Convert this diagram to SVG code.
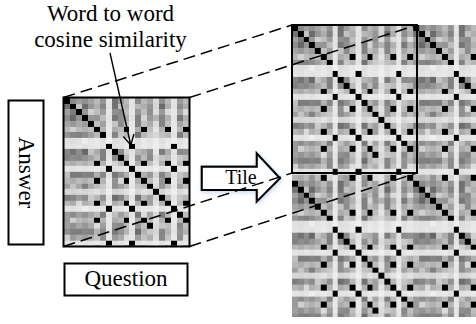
<svg xmlns="http://www.w3.org/2000/svg" width="476" height="324" viewBox="0 0 476 324">
<style>
.t{font-family:"Liberation Serif","Times New Roman",serif;fill:#000}
.box{fill:#fff;stroke:#000;stroke-width:2}
.frame{fill:none;stroke:#000;stroke-width:2}
.dash{fill:none;stroke:#000;stroke-width:1.5;stroke-dasharray:12 6}
.lead{fill:none;stroke:#000;stroke-width:1.4}
#mat rect,#mat path,#rowmask rect{shape-rendering:crispEdges}
</style>
<defs>
<mask id="rowmask" maskUnits="userSpaceOnUse" x="0" y="0" width="21" height="27">
<g fill="#fff">
<rect y="0" width="21" height="1" fill-opacity=".60"/>
<rect y="1" width="21" height="1" fill-opacity=".70"/>
<rect y="2" width="21" height="1" fill-opacity=".55"/>
<rect y="3" width="21" height="1" fill-opacity=".68"/>
<rect y="4" width="21" height="1" fill-opacity=".52"/>
<rect y="5" width="21" height="1" fill-opacity=".40"/>
<rect y="6" width="21" height="1" fill-opacity=".62"/>
<rect y="7" width="21" height="1" fill-opacity=".12"/>
<rect y="8" width="21" height="1" fill-opacity=".10"/>
<rect y="9" width="21" height="1" fill-opacity=".72"/>
<rect y="10" width="21" height="1" fill-opacity=".58"/>
<rect y="11" width="21" height="1" fill-opacity=".40"/>
<rect y="12" width="21" height="1" fill-opacity=".10"/>
<rect y="13" width="21" height="1" fill-opacity=".68"/>
<rect y="14" width="21" height="1" fill-opacity=".40"/>
<rect y="15" width="21" height="1" fill-opacity=".55"/>
<rect y="16" width="21" height="1" fill-opacity=".18"/>
<rect y="17" width="21" height="1" fill-opacity=".62"/>
<rect y="18" width="21" height="1" fill-opacity=".40"/>
<rect y="19" width="21" height="1" fill-opacity=".10"/>
<rect y="20" width="21" height="1" fill-opacity=".58"/>
<rect y="21" width="21" height="1" fill-opacity=".40"/>
<rect y="22" width="21" height="1" fill-opacity=".55"/>
<rect y="23" width="21" height="1" fill-opacity=".66"/>
<rect y="24" width="21" height="1" fill-opacity=".50"/>
<rect y="25" width="21" height="1" fill-opacity=".10"/>
<rect y="26" width="21" height="1" fill-opacity=".40"/>
</g>
</mask>
<g id="mat">
<rect width="21" height="27" fill="#f3f3f3"/>
<g mask="url(#rowmask)" fill="#000">
<rect x="0" width="1" height="27" fill-opacity=".62"/>
<rect x="1" width="1" height="27" fill-opacity=".72"/>
<rect x="2" width="1" height="27" fill-opacity=".58"/>
<rect x="3" width="1" height="27" fill-opacity=".68"/>
<rect x="4" width="1" height="27" fill-opacity=".55"/>
<rect x="5" width="1" height="27" fill-opacity=".40"/>
<rect x="6" width="1" height="27" fill-opacity=".65"/>
<rect x="7" width="1" height="27" fill-opacity=".10"/>
<rect x="8" width="1" height="27" fill-opacity=".75"/>
<rect x="9" width="1" height="27" fill-opacity=".60"/>
<rect x="10" width="1" height="27" fill-opacity=".40"/>
<rect x="11" width="1" height="27" fill-opacity=".10"/>
<rect x="12" width="1" height="27" fill-opacity=".70"/>
<rect x="13" width="1" height="27" fill-opacity=".40"/>
<rect x="14" width="1" height="27" fill-opacity=".55"/>
<rect x="15" width="1" height="27" fill-opacity=".18"/>
<rect x="16" width="1" height="27" fill-opacity=".68"/>
<rect x="17" width="1" height="27" fill-opacity=".40"/>
<rect x="18" width="1" height="27" fill-opacity=".10"/>
<rect x="19" width="1" height="27" fill-opacity=".60"/>
<rect x="20" width="1" height="27" fill-opacity=".40"/>
</g>
<path fill="#000" fill-opacity=".16" d="M1 3h1v1h-1z M3 9h1v1h-1z M9 2h1v1h-1z M12 4h1v1h-1z M16 1h1v1h-1z M2 13h1v1h-1z M8 17h1v1h-1z M14 10h1v1h-1z M19 6h1v1h-1z M6 20h1v1h-1z M4 23h1v1h-1z M12 23h1v1h-1z M16 14h1v1h-1z M0 17h1v1h-1z M9 22h1v1h-1z M15 3h1v1h-1z M3 26h1v1h-1z M19 24h1v1h-1z M6 10h1v1h-1z M2 6h1v1h-1z M8 0h1v1h-1z M12 20h1v1h-1z M16 24h1v1h-1z M0 10h1v1h-1z M0 1h1v1h-1z M1 2h1v1h-1z M3 1h1v1h-1z M5 3h1v1h-1z M9 4h1v1h-1z M12 6h1v1h-1z M14 2h1v1h-1z M16 4h1v1h-1z M19 3h1v1h-1z M20 9h1v1h-1z M2 10h1v1h-1z M4 13h1v1h-1z M8 14h1v1h-1z M9 17h1v1h-1z M12 17h1v1h-1z M14 18h1v1h-1z M16 20h1v1h-1z M19 22h1v1h-1z M2 23h1v1h-1z M6 24h1v1h-1z M9 26h1v1h-1z M12 26h1v1h-1z M0 21h1v1h-1z M3 15h1v1h-1z"/>
<path fill="#fff" fill-opacity=".45" d="M2 1h1v1h-1z M4 9h1v1h-1z M8 4h1v1h-1z M12 1h1v1h-1z M14 6h1v1h-1z M16 10h1v1h-1z M1 15h1v1h-1z M9 14h1v1h-1z M13 20h1v1h-1z M19 17h1v1h-1z M5 22h1v1h-1z M0 24h1v1h-1z M10 24h1v1h-1z M16 22h1v1h-1z M20 2h1v1h-1z M6 15h1v1h-1z M14 26h1v1h-1z M3 19h1v1h-1z M8 11h1v1h-1z M4 2h1v1h-1z M19 13h1v1h-1z M1 21h1v1h-1z M12 9h1v1h-1z M9 6h1v1h-1z M1 5h1v1h-1z M3 7h1v1h-1z M9 1h1v1h-1z M6 3h1v1h-1z M13 3h1v1h-1z M16 6h1v1h-1z M19 10h1v1h-1z M0 13h1v1h-1z M4 17h1v1h-1z M8 20h1v1h-1z M12 15h1v1h-1z M14 23h1v1h-1z M20 24h1v1h-1z M2 18h1v1h-1z M10 9h1v1h-1z M6 26h1v1h-1z M17 2h1v1h-1z M15 9h1v1h-1z"/>
<path fill="#000" d="M0 0h1v1h-1z M1 1h1v1h-1z M2 2h1v1h-1z M3 3h1v1h-1z M4 4h1v1h-1z M5 5h1v1h-1z M6 6h1v1h-1z M7 8h1v1h-1z M8 9h1v1h-1z M9 10h1v1h-1z M10 11h1v1h-1z M11 12h1v1h-1z M12 13h1v1h-1z M13 14h1v1h-1z M14 15h1v1h-1z M15 16h1v1h-1z M16 17h1v1h-1z M17 18h1v1h-1z M18 19h1v1h-1z M19 20h1v1h-1z M20 21h1v1h-1z
M5 11h1v1h-1z M5 14h1v1h-1z M5 18h1v1h-1z M5 21h1v1h-1z M5 26h1v1h-1z
M10 5h1v1h-1z M10 14h1v1h-1z M10 18h1v1h-1z M10 21h1v1h-1z M10 26h1v1h-1z
M13 5h1v1h-1z M13 11h1v1h-1z M13 18h1v1h-1z M13 21h1v1h-1z M13 26h1v1h-1z
M17 5h1v1h-1z M17 11h1v1h-1z M17 14h1v1h-1z M17 21h1v1h-1z M17 26h1v1h-1z
M20 5h1v1h-1z M20 11h1v1h-1z M20 14h1v1h-1z M20 18h1v1h-1z M20 26h1v1h-1z
M7 12h1v1h-1z M7 19h1v1h-1z M7 25h1v1h-1z M11 8h1v1h-1z M11 19h1v1h-1z M11 25h1v1h-1z M18 8h1v1h-1z M18 12h1v1h-1z M18 25h1v1h-1z M14 22h1v1h-1z"/>
</g>
<pattern id="pL" patternUnits="userSpaceOnUse" width="21" height="27" patternTransform="translate(292 25) scale(5.77)"><use href="#mat"/></pattern>
<pattern id="pS" patternUnits="userSpaceOnUse" width="21" height="27" patternTransform="translate(64 98) scale(5.952 5.692)"><use href="#mat"/></pattern>
<marker id="ah" viewBox="0 0 12 12" refX="11" refY="6" markerWidth="12" markerHeight="12" markerUnits="userSpaceOnUse" orient="auto"><path d="M1,0.5 L11,6 L1,11.5" fill="none" stroke="#000" stroke-width="1.4"/></marker>
<filter id="glow" x="-20%" y="-30%" width="140%" height="160%"><feDropShadow dx="1" dy="1.5" stdDeviation="2" flood-color="#8fb3dc" flood-opacity=".55"/></filter>
</defs>

<g id="tiled-matrix">
<rect x="292" y="25" width="184" height="292" fill="url(#pL)"/>
<rect class="frame" x="292" y="25" width="125" height="148"/>
</g>

<g id="small-matrix">
<rect x="64" y="98" width="125" height="148" fill="url(#pS)"/>
<rect class="frame" x="63.5" y="97.5" width="126" height="149"/>
</g>

<g id="answer">
<rect class="box" x="8.5" y="100.5" width="35" height="144"/>
<text class="t" font-size="23" text-anchor="middle" transform="translate(18.5 172.5) rotate(90)">Answer</text>
</g>

<g id="question">
<rect class="box" x="64.5" y="263.5" width="123" height="32"/>
<text class="t" font-size="23" text-anchor="middle" x="126" y="286">Question</text>
</g>

<g id="tile-arrow">
<path d="M201.7,166.7H256.7V153.3L280,178.3L256.7,201.7V190H201.7Z" fill="#fff" stroke="#000" stroke-width="2.2" stroke-linejoin="miter" filter="url(#glow)"/>
<text class="t" font-size="20" text-anchor="middle" x="241" y="184">Tile</text>
</g>

<g id="label">
<text class="t" font-size="23" text-anchor="middle" x="110.5" y="21">Word to word</text>
<text class="t" font-size="23" text-anchor="middle" x="110.5" y="47">cosine similarity</text>
</g>

<g id="connectors">
<line class="dash" x1="63.5" y1="97.5" x2="292" y2="25"/>
<line class="dash" x1="189.5" y1="97.5" x2="417" y2="25"/>
<line class="dash" x1="63.5" y1="246.5" x2="292" y2="173"/>
<line class="dash" x1="189.5" y1="246.5" x2="417" y2="173"/>
<line class="lead" x1="110" y1="53" x2="130.8" y2="145" marker-end="url(#ah)"/>
</g>
</svg>
